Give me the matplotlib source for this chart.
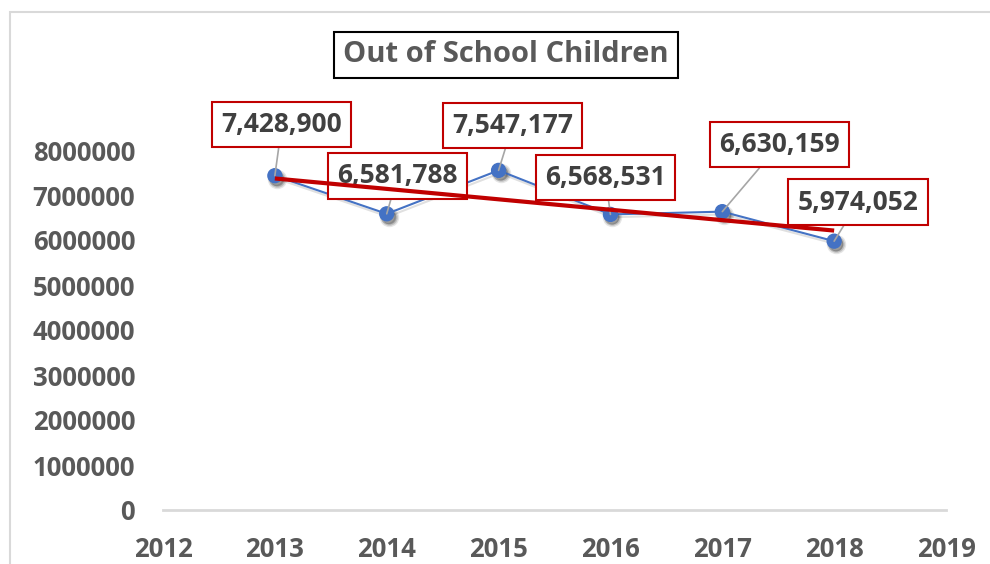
import numpy as np
import matplotlib
matplotlib.use('Agg')
from matplotlib import pyplot as plt
import matplotlib.patheffects as pe
import matplotlib.transforms as mtransforms
from matplotlib.patches import Rectangle

years = [2013, 2014, 2015, 2016, 2017, 2018]
children = [7428900, 6581788, 7547177, 6568531, 6630159, 5974052]
year_ticks = [2012, 2013, 2014, 2015, 2016, 2017, 2018, 2019]
value_ticks = [0, 1000000, 2000000, 3000000, 4000000, 5000000, 6000000, 7000000, 8000000]

# where each data label sits, in pixels from its point
label_offsets = [(7, 51), (11, 38), (14, 45), (-5, 37), (57, 67), (24, 39)]

plt.rcParams['font.family'] = ['Open Sans', 'DejaVu Sans']
plt.rcParams['font.weight'] = 'bold'

fig = plt.figure(figsize=(9.9, 5.64), dpi=100)
ax = fig.add_axes([163/990, 54/564, (946-163)/990, 360/564])

# outer chart frame, only top and left edges show
fig.patches.append(Rectangle((10/990, -0.1), 1.2, 1.1 - 12/564, transform=fig.transFigure,
                             fill=False, edgecolor='#D9D9D9', lw=1.5))

# soft drop shadow under the markers
shadow = ax.transData + mtransforms.ScaledTranslation(2/100, -3/100, fig.dpi_scale_trans)
for ms, a in [(14, 0.10), (12, 0.15), (10, 0.2)]:
    ax.plot(years, children, ls='none', marker='o', markersize=ms, color='k',
            markeredgewidth=0, alpha=a, transform=shadow, zorder=2)

ax.plot(years, children, color='#4472C4', lw=1.5, marker='o', markersize=10,
        markeredgecolor='#4472C4', zorder=3,
        path_effects=[pe.SimpleLineShadow(offset=(1, -2), shadow_color='k', alpha=0.12),
                      pe.Normal()])

# linear trend
k, b = np.polyfit(years, children, 1)
trend_x = np.array([years[0], years[-1]])
ax.plot(trend_x, k * trend_x + b, color='#C00000', lw=3, zorder=6, solid_capstyle='butt')

for x, y, off in zip(years, children, label_offsets):
    ax.annotate('{:,}'.format(y), xy=(x, y), xytext=off, textcoords='offset pixels',
                ha='center', va='center', fontsize=19, fontweight='bold', color='#404040',
                bbox=dict(boxstyle='square,pad=0.35', fc='white', ec='#C00000', lw=1.5),
                arrowprops=dict(arrowstyle='-', color='#A6A6A6', lw=1.2, shrinkA=0, shrinkB=0),
                zorder=5, annotation_clip=False)

ax.set_xlim(2012, 2019)
ax.set_ylim(0, 8000000)
ax.set_xticks(year_ticks)
ax.set_xticklabels([str(t) for t in year_ticks])
ax.set_yticks(value_ticks)
ax.set_yticklabels([str(t) for t in value_ticks])
ax.tick_params(axis='both', length=0, labelsize=18.5, labelcolor='#595959')
ax.tick_params(axis='x', pad=19)
ax.tick_params(axis='y', pad=20)
for lab in ax.get_xticklabels() + ax.get_yticklabels():
    lab.set_fontweight('bold')
for s in ['top', 'right', 'left']:
    ax.spines[s].set_visible(False)
ax.spines['bottom'].set_color('#D9D9D9')
ax.spines['bottom'].set_linewidth(2)

fig.text(506/990, 1 - 55/564, 'Out of School Children', ha='center', va='center',
         fontsize=21, fontweight='bold', color='#595959',
         bbox=dict(boxstyle='square,pad=0.3', fc='white', ec='black', lw=1.5))

fig.savefig('out.png', dpi=100)
